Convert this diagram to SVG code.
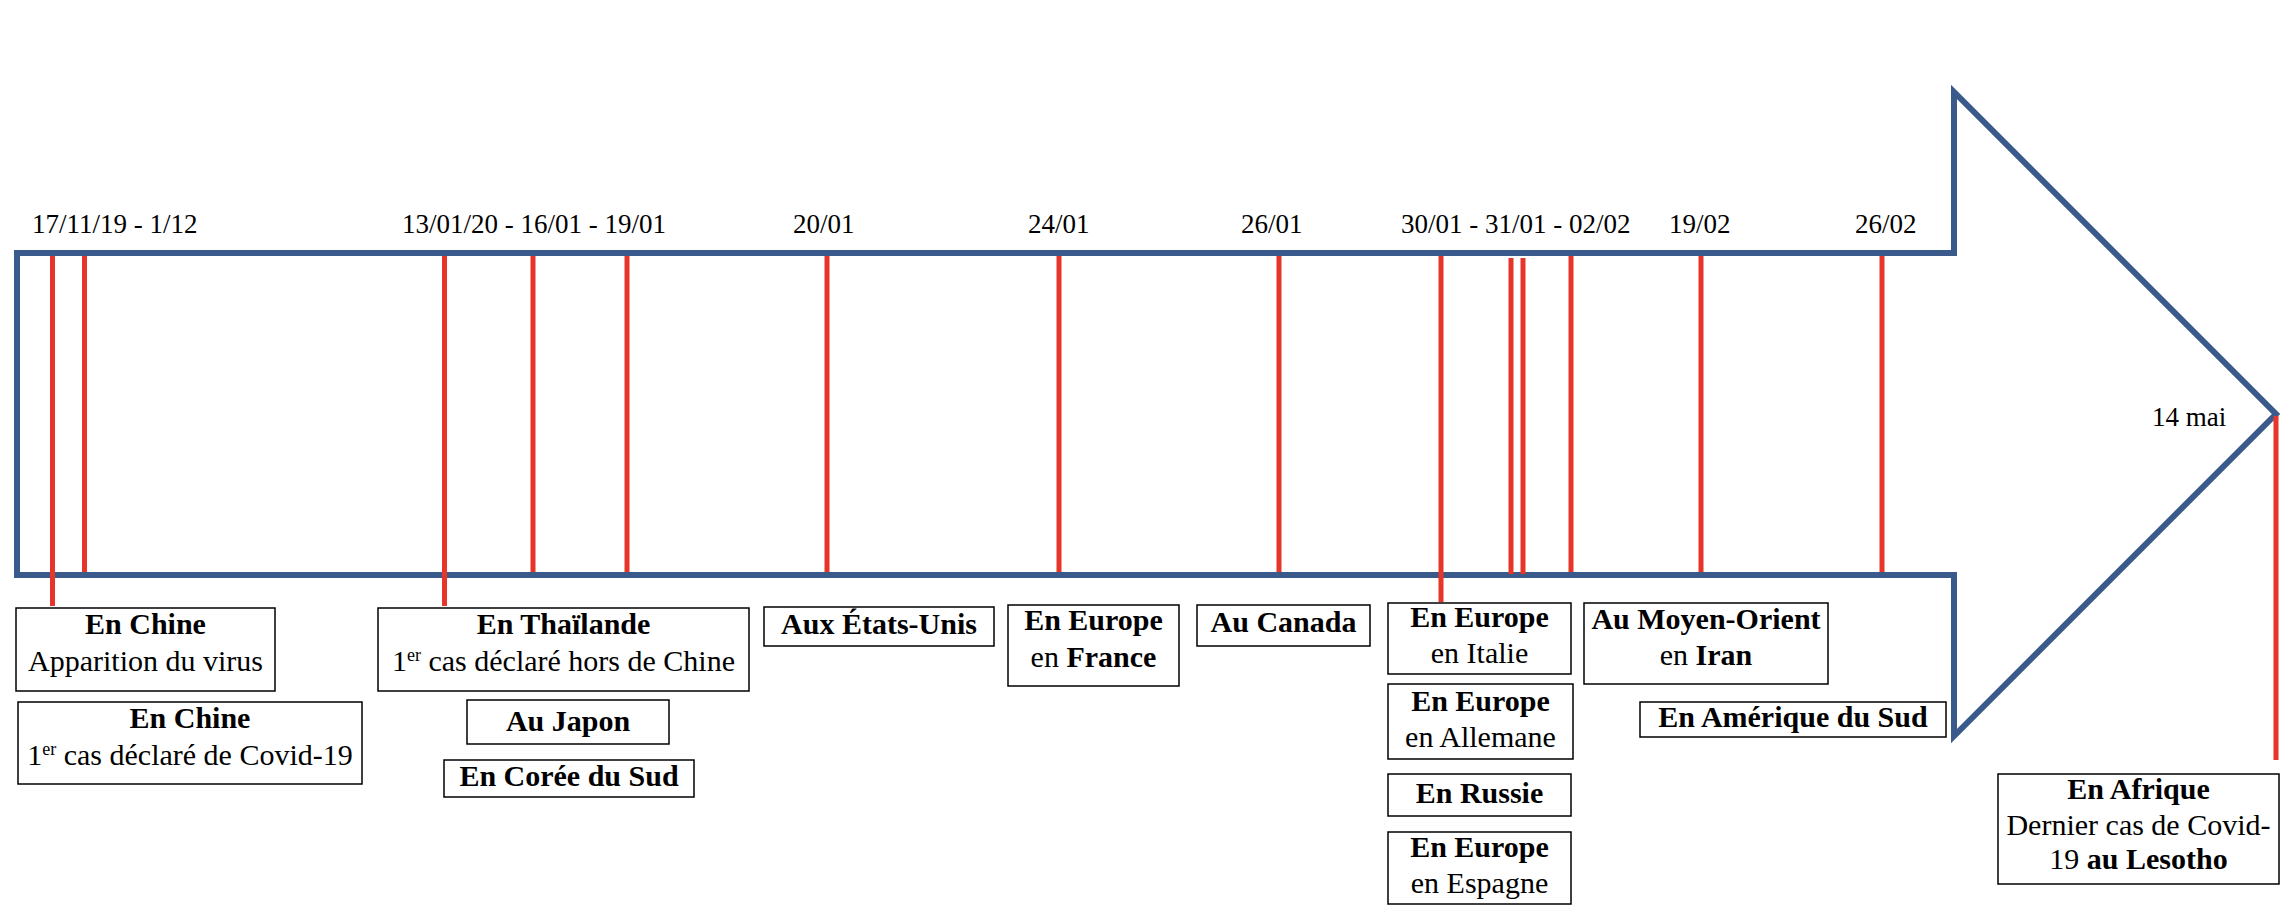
<svg xmlns="http://www.w3.org/2000/svg" width="2292" height="916" viewBox="0 0 2292 916">
<style>
.date{font-family:"Liberation Serif","Times New Roman",serif;font-size:27px;fill:#000}
.t{font-family:"Liberation Serif","Times New Roman",serif;font-size:30px;fill:#000;text-anchor:middle}
.b{font-weight:bold}
.sup{font-size:18px}
.box{fill:#fff;stroke:#000;stroke-width:1.5}
.red{stroke:#E8352A;stroke-width:5;fill:none}
</style>
<rect x="0" y="0" width="2292" height="916" fill="#fff"/>
<g id="arrow">
<polygon points="17,253 1954,253 1954,92 2276,414 1954,736 1954,575 17,575" fill="none" stroke="#3B5A8C" stroke-width="6" stroke-linejoin="miter"/>
</g>
<g id="dates">
<text class="date" x="32" y="233">17/11/19 - 1/12</text>
<text class="date" x="402" y="233">13/01/20 - 16/01 - 19/01</text>
<text class="date" x="793" y="233">20/01</text>
<text class="date" x="1028" y="233">24/01</text>
<text class="date" x="1241" y="233">26/01</text>
<text class="date" x="1401" y="233">30/01 - 31/01 - 02/02</text>
<text class="date" x="1669" y="233">19/02</text>
<text class="date" x="1855" y="233">26/02</text>
<text class="date" x="2152" y="426">14 mai</text>
</g>
<g id="connectors">
<line class="red" x1="52.5" y1="256" x2="52.5" y2="606"/>
<line class="red" x1="84.5" y1="256" x2="84.5" y2="572"/>
<line class="red" x1="444.5" y1="256" x2="444.5" y2="606"/>
<line class="red" x1="533" y1="256" x2="533" y2="572"/>
<line class="red" x1="627" y1="256" x2="627" y2="572"/>
<line class="red" x1="827" y1="256" x2="827" y2="572"/>
<line class="red" x1="1059" y1="256" x2="1059" y2="572"/>
<line class="red" x1="1279" y1="256" x2="1279" y2="572"/>
<line class="red" x1="1441" y1="256" x2="1441" y2="602"/>
<line class="red" x1="1511" y1="258" x2="1511" y2="574"/>
<line class="red" x1="1523" y1="258" x2="1523" y2="574"/>
<line class="red" x1="1571" y1="256" x2="1571" y2="572"/>
<line class="red" x1="1701" y1="256" x2="1701" y2="572"/>
<line class="red" x1="1882" y1="256" x2="1882" y2="572"/>
<line class="red" x1="2276" y1="416" x2="2276" y2="760"/>
</g>
<g id="n-chine1">
<rect class="box" x="16" y="608" width="259" height="83"/>
<text class="t b" x="145.5" y="634">En Chine</text>
<text class="t" x="145.5" y="671">Apparition du virus</text>
</g>
<g id="n-chine2">
<rect class="box" x="18" y="702" width="344" height="82"/>
<text class="t b" x="190" y="728">En Chine</text>
<text class="t" x="190" y="765">1<tspan class="sup" dy="-10">er</tspan><tspan dy="10"> cas déclaré de Covid-19</tspan></text>
</g>
<g id="n-thailande">
<rect class="box" x="378" y="608" width="371" height="83"/>
<text class="t b" x="563.5" y="634">En Thaïlande</text>
<text class="t" x="563.5" y="671">1<tspan class="sup" dy="-10">er</tspan><tspan dy="10"> cas déclaré hors de Chine</tspan></text>
</g>
<g id="n-japon">
<rect class="box" x="467" y="700" width="202" height="44"/>
<text class="t b" x="568" y="731">Au Japon</text>
</g>
<g id="n-coree">
<rect class="box" x="444" y="760" width="250" height="37"/>
<text class="t b" x="569" y="786">En Corée du Sud</text>
</g>
<g id="n-usa">
<rect class="box" x="764" y="607" width="230" height="39"/>
<text class="t b" x="879" y="634">Aux États-Unis</text>
</g>
<g id="n-france">
<rect class="box" x="1008" y="605" width="171" height="81"/>
<text class="t b" x="1093.5" y="630">En Europe</text>
<text class="t" x="1093.5" y="667">en <tspan class="b">France</tspan></text>
</g>
<g id="n-canada">
<rect class="box" x="1197" y="605" width="173" height="41"/>
<text class="t b" x="1283.5" y="632">Au Canada</text>
</g>
<g id="n-italie">
<rect class="box" x="1388" y="603" width="183" height="71"/>
<text class="t b" x="1479.5" y="627">En Europe</text>
<text class="t" x="1479.5" y="663">en Italie</text>
</g>
<g id="n-allemagne">
<rect class="box" x="1388" y="684" width="185" height="75"/>
<text class="t b" x="1480.5" y="711">En Europe</text>
<text class="t" x="1480.5" y="747">en Allemane</text>
</g>
<g id="n-russie">
<rect class="box" x="1388" y="774" width="183" height="42"/>
<text class="t b" x="1479.5" y="803">En Russie</text>
</g>
<g id="n-espagne">
<rect class="box" x="1388" y="832" width="183" height="72"/>
<text class="t b" x="1479.5" y="857">En Europe</text>
<text class="t" x="1479.5" y="893">en Espagne</text>
</g>
<g id="n-iran">
<rect class="box" x="1584" y="603" width="244" height="81"/>
<text class="t b" x="1706" y="629">Au Moyen-Orient</text>
<text class="t" x="1706" y="665">en <tspan class="b">Iran</tspan></text>
</g>
<g id="n-amerique">
<rect class="box" x="1640" y="702" width="306" height="35"/>
<text class="t b" x="1793" y="727">En Amérique du Sud</text>
</g>
<g id="n-afrique">
<rect class="box" x="1998" y="774" width="281" height="110"/>
<text class="t b" x="2138.5" y="799">En Afrique</text>
<text class="t" x="2138.5" y="835">Dernier cas de Covid-</text>
<text class="t" x="2138.5" y="869">19 <tspan class="b">au Lesotho</tspan></text>
</g>
</svg>
